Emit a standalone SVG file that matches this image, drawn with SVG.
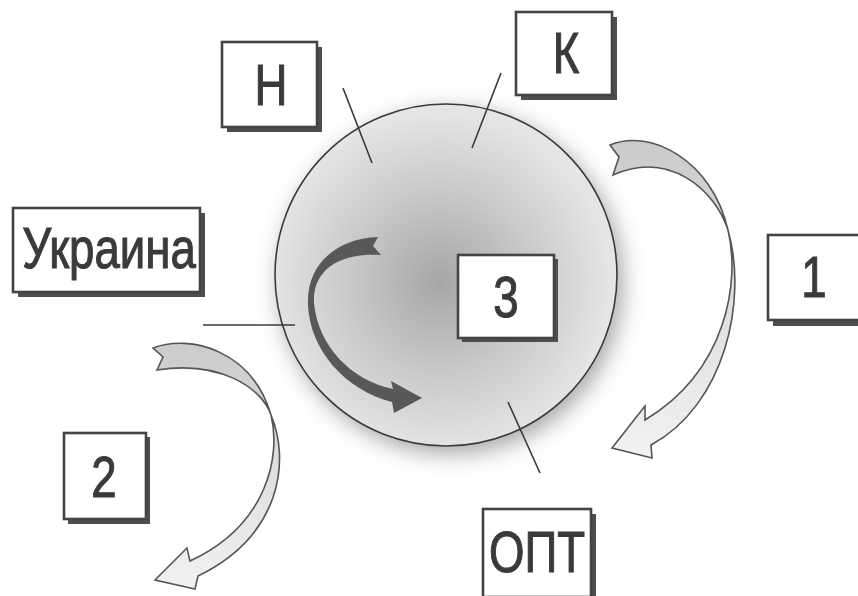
<svg xmlns="http://www.w3.org/2000/svg" width="858" height="596" viewBox="0 0 858 596">
<defs>
<style>
.box{fill:#ffffff;stroke:#444444;stroke-width:2.6}
.shd{fill:#4e4e4e}
.lbl{font-family:"Liberation Sans",Arial,sans-serif;font-size:57px;fill:#3a3a3a;stroke:#3a3a3a;stroke-width:1.1;text-anchor:middle}
.ln{stroke:#3a3a3a;stroke-width:1.6;fill:none}
.light{fill:url(#lg);stroke:#555;stroke-width:1.6;stroke-linejoin:miter}
</style>
<radialGradient id="rg" gradientUnits="userSpaceOnUse" cx="440" cy="282" r="171">
<stop offset="0" stop-color="#a6a6a8"/>
<stop offset="0.55" stop-color="#cacacc"/>
<stop offset="1" stop-color="#e5e5e7"/>
</radialGradient>
<linearGradient id="lg" x1="0" y1="0" x2="0" y2="1">
<stop offset="0" stop-color="#cbcbcd"/>
<stop offset="1" stop-color="#f2f2f3"/>
</linearGradient>
<filter id="blur" x="-30%" y="-30%" width="160%" height="160%">
<feGaussianBlur stdDeviation="11"/>
</filter>
</defs>
<rect width="858" height="596" fill="#ffffff"/>

<g id="node-circle">
<circle cx="451" cy="282" r="172" fill="#8a8a8c" filter="url(#blur)" opacity="0.75"/>
<circle cx="446" cy="275" r="171" fill="url(#rg)" stroke="#3a3a3a" stroke-width="1.6"/>
</g>

<g id="connectors">
<line class="ln" x1="343" y1="88" x2="372" y2="163"/>
<line class="ln" x1="501" y1="73" x2="472" y2="148"/>
<line class="ln" x1="203" y1="325" x2="295" y2="325"/>
<line class="ln" x1="508" y1="402" x2="540" y2="473"/>
<path id="arrow-cycle" fill="#58585a" d="M 378,237 C 340,238 306,262 308,305 C 310,350 345,390 392,402 L 394,413 L 422,398 L 391,381 L 393,389 C 350,380 318,345 314,303 C 312,270 340,252 381,255 L 373,246 Z"/>
<path id="arrow-1" class="light" d="M 610,145 C 650,128 712,160 728,230 C 740,280 728,370 645,420 L 645,406 L 612,448 L 652,458 L 651,445 C 725,405 748,300 728,230 C 715,190 670,150 613,175 L 619,157 Z"/>
<path id="arrow-2" class="light" d="M 153,348 C 190,334 252,350 271,415 C 281,455 268,525 190,561 L 187,548 L 155,580 L 195,589 L 198,576 C 282,535 290,460 271,415 C 262,388 220,360 157,370 L 163,357 Z"/>
</g>

<g id="node-N">
<rect class="shd" x="227" y="47" width="95" height="85"/>
<rect class="box" x="222" y="42" width="95" height="85"/>
<text class="lbl" transform="translate(271,105) scale(0.8,1)">Н</text>
</g>

<g id="node-K">
<rect class="shd" x="521" y="17" width="96" height="83"/>
<rect class="box" x="516" y="12" width="96" height="83"/>
<text class="lbl" transform="translate(566,73) scale(0.8,1)">К</text>
</g>

<g id="node-Ukraina">
<rect class="shd" x="18" y="213" width="187" height="84"/>
<rect class="box" x="13" y="208" width="187" height="84"/>
<text class="lbl" transform="translate(109,268) scale(0.8,1)">Украина</text>
</g>

<g id="node-3">
<rect class="shd" x="462" y="259" width="96" height="83"/>
<rect class="box" x="458" y="255" width="96" height="83"/>
<text class="lbl" transform="translate(506,317) scale(0.8,1)">3</text>
</g>

<g id="node-1">
<rect class="shd" x="773" y="240" width="100" height="86"/>
<rect class="box" x="768" y="235" width="100" height="85"/>
<text class="lbl" transform="translate(814,297) scale(0.8,1)">1</text>
</g>

<g id="node-2">
<rect class="shd" x="68" y="437" width="82" height="87"/>
<rect class="box" x="64" y="433" width="82" height="86"/>
<text class="lbl" transform="translate(104,497) scale(0.8,1)">2</text>
</g>

<g id="node-OPT">
<rect class="shd" x="488" y="514" width="108" height="88"/>
<rect class="box" x="483" y="509" width="108" height="88"/>
<text class="lbl" transform="translate(537,572) scale(0.8,1)">ОПТ</text>
</g>
</svg>
